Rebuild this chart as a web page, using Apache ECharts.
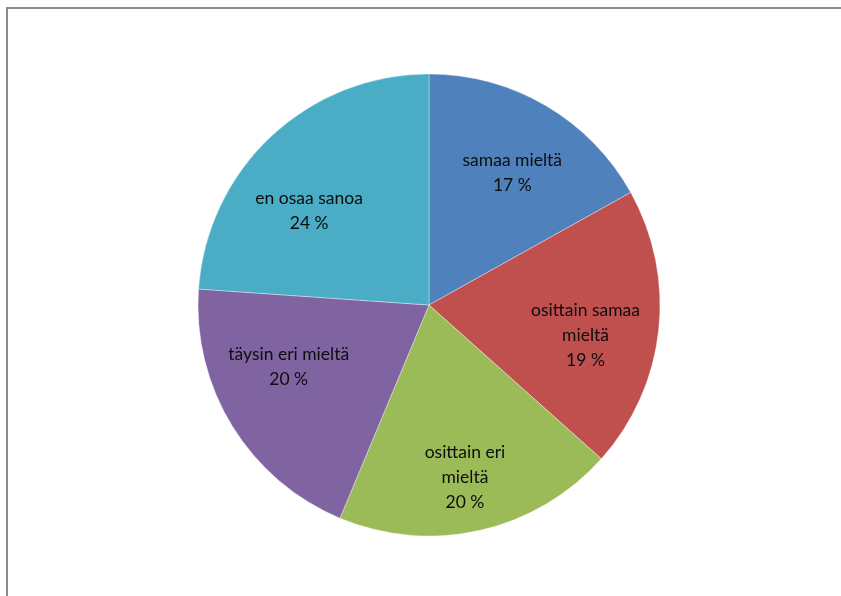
<!DOCTYPE html>
<html>
<head>
<meta charset="utf-8">
<script src="https://cdn.jsdelivr.net/npm/echarts@6/dist/echarts.min.js"></script>
<style>
html,body{margin:0;padding:0;background:#fff;overflow:hidden;}
#wrap{position:relative;width:841px;height:596px;overflow:hidden;}
#chart{position:absolute;left:0;top:0;width:841px;height:596px;}
#frame{position:absolute;left:6px;top:7px;width:850px;height:600px;border-top:2px solid #8c8c8c;border-left:2px solid #8c8c8c;pointer-events:none;box-sizing:border-box;}
</style>
</head>
<body>
<div id="wrap">
<div id="chart"></div>
<div id="frame"></div>
</div>
<script>
// Categories (as shown, with the chart's own line breaks)
const categories = ['samaa mieltä', 'osittain samaa\nmieltä', 'osittain eri\nmieltä', 'täysin eri mieltä', 'en osaa sanoa'];
// Slice shares estimated from the picture's angles
const values = [16.9, 19.7, 19.7, 19.8, 23.9];
// Percent labels as printed on the chart
const percentLabels = ['17 %', '19 %', '20 %', '20 %', '24 %'];
const colors = ['#4F81BD', '#C0504D', '#9BBB59', '#8064A2', '#4BACC6'];
// Label nudges (px) to match the "best fit" placement of the original
const labelOffsets = [[1, 8], [-5, 13], [0, 14], [-2, -23], [-9, 25]];

const data = categories.map((c, i) => ({ name: c, value: values[i] }));
const labelData = categories.map((c, i) => ({
  name: c, value: values[i],
  label: { offset: labelOffsets[i] }
}));

const chart = echarts.init(document.getElementById('chart'), null, { renderer: 'canvas' });
chart.setOption({
  animation: false,
  backgroundColor: '#ffffff',
  color: colors,
  series: [
    {
      type: 'pie',
      center: [429, 305],
      radius: [0, 231],
      startAngle: 90,
      clockwise: true,
      silent: true,
      label: { show: false },
      labelLine: { show: false },
      itemStyle: { borderColor: 'rgba(255,255,255,0.6)', borderWidth: 0.6 },
      data: data
    },
    {
      type: 'pie',
      center: [429, 305],
      radius: [88, 231],
      startAngle: 90,
      clockwise: true,
      silent: true,
      itemStyle: { color: 'rgba(0,0,0,0)' },
      labelLine: { show: false },
      label: {
        show: true,
        position: 'inside',
        fontFamily: 'Lato, "Open Sans", sans-serif',
        fontSize: 17.5,
        lineHeight: 25,
        color: '#0d0d0d',
        align: 'center',
        formatter: p => p.name + '\n' + percentLabels[p.dataIndex]
      },
      data: labelData
    }
  ]
});
</script>
</body>
</html>
